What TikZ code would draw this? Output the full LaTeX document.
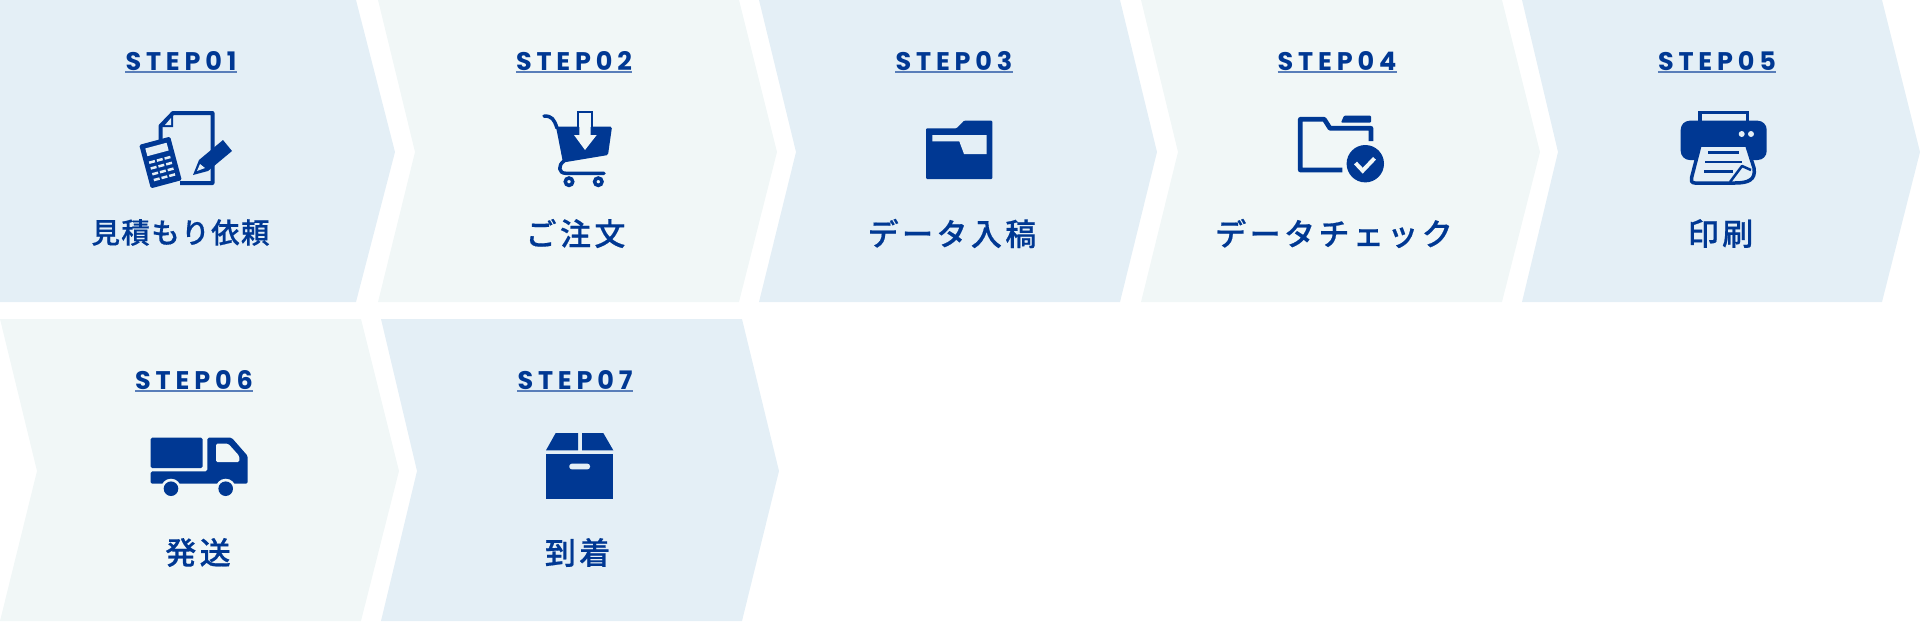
\documentclass[tikz,border=0pt]{standalone}
\usepackage{fontspec}
\newfontfamily\stepfont[LetterSpace=19]{Poppins}
\newfontfamily\namefont[LetterSpace=5,FakeBold=0.5]{Noto Sans CJK JP Medium}
\newfontfamily\widefont[LetterSpace=11,FakeBold=0.5]{Noto Sans CJK JP Medium}
\definecolor{boxblue}{HTML}{E4EFF6}
\definecolor{boxpale}{HTML}{F1F7F7}
\definecolor{navy}{HTML}{003893}
\tikzset{
  steplabel/.style={inner sep=0pt,text height=18pt,text depth=0pt,text=navy,font=\stepfont\bfseries\fontsize{25.5}{26}\selectfont},
  stepline/.style={draw=navy!65!white,line width=1.5pt},
  namelabel/.style={inner sep=0pt,text=navy,font=\namefont\fontsize{28.5}{30}\selectfont},
  widelabel/.style={inner sep=0pt,text=navy,font=\widefont\fontsize{31}{32}\selectfont},
  icon/.style={fill=navy,draw=none},
  iconline/.style={draw=navy,line width=4pt,line join=round}
}
\begin{document}
\begin{tikzpicture}[x=1pt,y=-1pt]
\useasboundingbox (0,0) rectangle (1920,622);
\fill [boxblue] (0,0) -- (356,0) -- (395,152) -- (356,302) -- (0,302) -- cycle;
\fill [boxpale] (378,0) -- (739,0) -- (777,152) -- (739,302) -- (378,302) -- (415,152) -- cycle;
\fill [boxblue] (759,0) -- (1120,0) -- (1157,152) -- (1120,302) -- (759,302) -- (796,152) -- cycle;
\fill [boxpale] (1141,0) -- (1502,0) -- (1540,152) -- (1502,302) -- (1141,302) -- (1178,152) -- cycle;
\fill [boxblue] (1522,0) -- (1882,0) -- (1920,152) -- (1882,302) -- (1522,302) -- (1558,152) -- cycle;
\fill [boxpale] (0,319) -- (361,319) -- (399,471) -- (361,621) -- (0,621) -- (37,471) -- cycle;
\fill [boxblue] (381,319) -- (742,319) -- (779,471) -- (742,621) -- (381,621) -- (417,471) -- cycle;

\node [steplabel] (step1) at (181,61) {STEP01};
\node [steplabel] (step2) at (574,61) {STEP02};
\node [steplabel] (step3) at (954,61) {STEP03};
\node [steplabel] (step4) at (1337,61) {STEP04};
\node [steplabel] (step5) at (1717,61) {STEP05};
\node [steplabel] (step6) at (194,380) {STEP06};
\node [steplabel] (step7) at (575,380) {STEP07};
\draw [stepline] ([yshift=-2pt]step1.south west) -- ([yshift=-2pt]step1.south east);
\draw [stepline] ([yshift=-2pt]step2.south west) -- ([yshift=-2pt]step2.south east);
\draw [stepline] ([yshift=-2pt]step3.south west) -- ([yshift=-2pt]step3.south east);
\draw [stepline] ([yshift=-2pt]step4.south west) -- ([yshift=-2pt]step4.south east);
\draw [stepline] ([yshift=-2pt]step5.south west) -- ([yshift=-2pt]step5.south east);
\draw [stepline] ([yshift=-2pt]step6.south west) -- ([yshift=-2pt]step6.south east);
\draw [stepline] ([yshift=-2pt]step7.south west) -- ([yshift=-2pt]step7.south east);

\node [namelabel] (name1) at (180.5,232.5) {見積もり依頼};
\node [widelabel] (name2) at (575.5,233.5) {ご注文};
\node [widelabel] (name3) at (952,233.5) {データ入稿};
\node [widelabel] (name4) at (1334,233.5) {データチェック};
\node [widelabel] (name5) at (1720.5,233.5) {印刷};
\node [widelabel] (name6) at (198,552.5) {発送};
\node [widelabel] (name7) at (577.5,552.5) {到着};

\draw [iconline] (180,183) -- (212.5,183) -- (212.5,113) -- (173,113) -- (160.5,126) -- (160.5,142);
\fill [icon] (173,112) -- (173,127) -- (159,127) -- cycle;
\fill [boxblue] (171,118) -- (171,125) -- (165,125) -- cycle;
\begin{scope}[shift={(160.5,162.5)},rotate=15]
\fill [icon,rounded corners=1.5pt] (-16,-22.5) rectangle (16,22.5);
\fill [boxblue] (-11,-17.5) rectangle (11,-9.5);
\fill [boxblue] (-11,-4) rectangle (-5,-1.5) (-3,-4) rectangle (3,-1.5) (5,-4) rectangle (11,-1.5);
\fill [boxblue] (-11,2) rectangle (-5,4.5) (-3,2) rectangle (3,4.5) (5,2) rectangle (11,4.5);
\fill [boxblue] (-11,8) rectangle (-5,10.5) (-3,8) rectangle (3,10.5) (5,8) rectangle (11,10.5);
\fill [boxblue] (-11,14) rectangle (-5,16.5) (-3,14) rectangle (3,16.5) (5,14) rectangle (11,16.5);
\end{scope}
\fill [icon] (223,140) -- (232,151) -- (208,171) -- (193,175) -- (199,160) -- cycle;
\fill [boxblue] (197,171) -- (200,164) -- (205,168) -- cycle;

\draw [navy,line width=3.5pt,line cap=round] (544,116) .. controls (552,116) and (554,119) .. (557,128);
\fill [icon,rounded corners=1.5pt] (556,126.7) -- (612,126.7) -- (608,155) -- (563,162.5) -- cycle;
\draw [navy,line width=3.5pt,line cap=round,line join=round] (564,161) .. controls (558,165) and (558,173.3) .. (566,173.3) -- (604,173.3);
\draw [navy,line width=3.5pt] (569,181.7) circle (3.7);
\draw [navy,line width=3.5pt] (598.3,181.7) circle (3.7);
\draw [navy,line width=1.3pt,fill=boxpale] (578,112) -- (592,112) -- (592,128) -- (578,128) -- cycle;
\fill [boxpale] (579.3,120) -- (590.7,120) -- (590.7,135) -- (596.7,135) -- (585,150) -- (574,135) -- (579.3,135) -- cycle;

\fill [icon,rounded corners=1pt] (926,128.3) -- (956.7,128.3) -- (964,120.7) -- (992.3,120.7) -- (992.3,179) -- (926,179) -- cycle;
\fill [boxblue] (932.3,135) -- (986.7,135) -- (986.7,154) -- (964,154) -- (959.3,141.3) -- (932.3,141.3) -- cycle;

\draw [navy,line width=4.7pt,line join=round] (1342.3,170) -- (1300.3,170) -- (1300.3,119.3) -- (1324.3,119.3) -- (1330,128.3) -- (1371,128.3) -- (1371,141);
\fill [icon,rounded corners=1pt] (1341,122.7) -- (1344,115.7) -- (1371,115.7) -- (1371,122.7) -- cycle;
\fill [navy] (1365.3,163.7) circle (18.7);
\draw [boxpale,line width=4pt] (1355.5,163) -- (1362.7,170.7) -- (1374.5,158.3);

\draw [navy,line width=3.5pt] (1700,122) -- (1700,112.5) -- (1747.3,112.5) -- (1747.3,122);
\fill [icon,rounded corners=9pt] (1680.7,120.7) rectangle (1766.7,160);
\fill [boxblue] (1741.7,134) circle (3);
\fill [boxblue] (1751,134) circle (3);
\draw [navy,line width=3.5pt,fill=boxblue,line join=round] (1700,145) -- (1746.7,145) -- (1754,168) .. controls (1756,180) and (1748,183) .. (1735,183) -- (1695,183) .. controls (1691,183) and (1691,180) .. (1691.5,178) -- cycle;
\draw [navy,line width=2.5pt] (1708,152.7) -- (1739,152.7);
\draw [navy,line width=2.5pt] (1705,162) -- (1742,162);
\draw [navy,line width=2.5pt] (1704,171.3) -- (1733,171.3);
\draw [navy,line width=2.5pt,line join=round] (1730,182) -- (1742,166) -- (1751,170);

\fill [icon,rounded corners=1.5pt] (150.7,437.7) rectangle (202.7,468);
\fill [icon,rounded corners=1.5pt] (207.3,437.7) -- (231.7,437.7) -- (247.7,456) -- (247.7,483.7) -- (150.7,483.7) -- (150.7,471.3) -- (207.3,471.3) -- cycle;
\fill [boxpale,rounded corners=1.5pt] (216,443.7) -- (228.3,443.7) -- (239.3,456) -- (239.3,462) -- (216,462) -- cycle;
\fill [boxpale] (171,488.7) circle (10);
\fill [boxpale] (225.7,488.7) circle (10);
\fill [icon] (171,488.7) circle (7.3);
\fill [icon] (225.7,488.7) circle (7.3);

\fill [icon] (546,450.3) -- (555.7,433) -- (578,433) -- (578,450.3) -- cycle;
\fill [icon] (582,433) -- (603.3,433) -- (613.3,450.3) -- (582,450.3) -- cycle;
\fill [icon] (546,454.3) rectangle (613.3,498.7);
\fill [boxblue,rounded corners=2.5pt] (569.3,463.7) rectangle (590,469.3);
\end{tikzpicture}
\end{document}
